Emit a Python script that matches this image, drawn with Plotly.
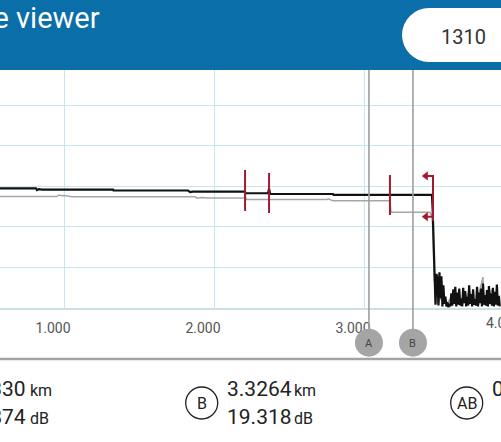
import plotly.graph_objects as go

W, H = 501, 442

# ---------------- data ----------------
title_text = "Trace viewer"
wavelength = "1310"

black_km = [0.573, 0.813, 0.820, 0.833, 0.853, 1.327, 1.330, 1.827, 1.840, 1.860, 2.207, 2.210,
            2.360, 2.367, 2.375, 2.793, 2.797, 3.453, 3.458, 3.462, 3.467]
black_db = [14.74, 14.74, 14.52, 14.64, 14.59, 14.59, 14.47, 14.47, 14.28, 14.32, 14.32, 14.13,
            14.13, 14.70, 14.04, 14.04, 13.92, 13.92, 12.00, 8.74, 4.68]

noise_start_km = 3.470
noise_step_km = 0.0066
black_noise_db = [4.6, 0.4, 4.2, 3.6, 0.3, 4.4, 1.2, 3.9, 0.2, 2.8, 0.5, 1.4, 0.2, 0.7, 0.1, 0.5,
                  0.2, 1.8, 0.3, 2.3, 0.5, 2.6, 0.2, 1.9, 0.4, 2.4, 0.3, 1.2, 0.2, 2.5, 0.6, 2.1,
                  0.2, 1.4, 0.3, 2.8, 0.5, 1.7, 0.2, 2.3, 0.4, 1.1, 0.3, 2.6, 0.2, 1.9, 0.6, 2.4,
                  0.2, 3.0, 0.4, 1.6, 0.3, 2.2, 0.2, 2.7, 0.5, 1.8, 0.3, 2.5, 0.2, 2.0, 0.4, 2.9,
                  0.3, 1.5, 0.2]

grey_km = [0.573, 0.953, 0.965, 0.985, 1.000, 1.053, 1.873, 1.890, 1.920, 1.960, 2.212, 2.217,
           2.753, 2.763, 2.780, 2.797, 3.173, 3.180, 3.440, 3.455, 3.462, 3.468]
grey_db = [13.73, 13.73, 13.92, 13.82, 13.86, 13.70, 13.70, 13.52, 13.60, 13.56, 13.56, 13.36,
           13.36, 13.45, 13.30, 13.21, 13.21, 11.79, 11.79, 11.20, 7.50, 3.50]
grey_noise_km = [3.478, 3.490, 3.520, 3.550, 3.600, 3.650, 3.700, 3.750, 3.793, 3.800, 3.850, 3.900]
grey_noise_db = [2.5, 0.5, 1.5, 0.4, 1.9, 0.3, 2.0, 0.5, 3.8, 0.4, 2.2, 0.5]

event_km = [2.207, 2.367, 3.173]
event_top_db = [17.00, 16.63, 16.38]
event_bot_db = [11.95, 11.70, 11.45]
end_km = 3.460
end_arrow_km = 3.412
end_top_db = 16.26
end_bot_db = 10.71
end_arrow_db = [16.26, 11.24]

cursor_labels = ["A", "B"]
cursor_km = [3.0330, 3.3264]
cursor_db = [19.874, 19.318]

x_tick_vals = [1, 2, 3, 4]
x_tick_text = ["1.000", "2.000", "3.000", "4.000"]

x_range = [0.57333, 3.91333]
y_range = [0.0, 29.31]

# ---------------- helpers ----------------
def px(xp):
    return xp / W

def py(yp):
    return 1 - yp / H

FONT = "Roboto"
RED = "#a3192f"
GRID = "#c6e6f0"

noise_km = [noise_start_km + i * noise_step_km for i in range(len(black_noise_db))]

fig = go.Figure()

fig.add_trace(go.Scatter(x=grey_km + grey_noise_km, y=grey_db + grey_noise_db, mode="lines",
                         line=dict(color="#a6a6a6", width=1.5), hoverinfo="skip", showlegend=False))
fig.add_trace(go.Scatter(x=black_km + noise_km, y=black_db + black_noise_db, mode="lines",
                         line=dict(color="#111111", width=2.2), hoverinfo="skip", showlegend=False))

ev_x, ev_y = [], []
for k, t, b in zip(event_km, event_top_db, event_bot_db):
    ev_x += [k, k, None]
    ev_y += [t, b, None]
ev_x += [end_arrow_km, end_km, end_km, None, end_km, end_arrow_km]
ev_y += [end_arrow_db[0], end_top_db, end_bot_db, None, end_arrow_db[1], end_arrow_db[1]]
fig.add_trace(go.Scatter(x=ev_x, y=ev_y, mode="lines", line=dict(color=RED, width=2),
                         hoverinfo="skip", showlegend=False))
fig.add_trace(go.Scatter(x=[end_arrow_km] * 2, y=end_arrow_db, mode="markers",
                         marker=dict(symbol="triangle-left", size=8, color=RED),
                         hoverinfo="skip", showlegend=False))

shapes = []
annotations = []

# cursor lines
for lab, k in zip(cursor_labels, cursor_km):
    shapes.append(dict(type="line", xref="x", yref="paper", x0=k, x1=k, y0=py(330), y1=1,
                       line=dict(color="#9e9e9e", width=1.6), layer="above"))
    shapes.append(dict(type="circle", xref="x", yref="paper", xsizemode="pixel", xanchor=k,
                       x0=-14, x1=14, y0=py(356.7), y1=py(328.7),
                       fillcolor="#a5a5a5", line=dict(width=0), layer="above"))
    annotations.append(dict(x=k, y=py(343), xref="x", yref="paper", text=lab, showarrow=False,
                            font=dict(family=FONT, size=11, color="#444444"),
                            xanchor="center", yanchor="middle"))

# header
shapes.append(dict(type="rect", xref="paper", yref="paper", x0=0, x1=1, y0=py(70), y1=1,
                   fillcolor="#0a6ea8", line=dict(width=0), layer="above"))
shapes.append(dict(type="circle", xref="paper", yref="paper", x0=px(402), x1=px(456),
                   y0=py(62), y1=py(8), fillcolor="white", line=dict(width=0), layer="above"))
shapes.append(dict(type="rect", xref="paper", yref="paper", x0=px(429), x1=1, y0=py(62),
                   y1=py(8), fillcolor="white", line=dict(width=0), layer="above"))
annotations.append(dict(x=px(102), y=py(18), xref="paper", yref="paper", text=title_text,
                        showarrow=False, xanchor="right", yanchor="middle",
                        font=dict(family=FONT, size=29, color="white")))
annotations.append(dict(x=px(463), y=py(37), xref="paper", yref="paper", text=wavelength,
                        showarrow=False, xanchor="center", yanchor="middle",
                        font=dict(family=FONT, size=20, color="#333333")))

# partial tick label at 4.000 (outside the visible range)
annotations.append(dict(x=(x_tick_vals[3] - x_range[0]) / (x_range[1] - x_range[0]), y=py(323),
                        xref="paper", yref="paper", xshift=-11, text=x_tick_text[3],
                        showarrow=False, xanchor="center", yanchor="middle",
                        font=dict(family=FONT, size=14, color="#555555")))

# separator
shapes.append(dict(type="line", xref="paper", yref="paper", x0=0, x1=1, y0=py(359), y1=py(359),
                   line=dict(color="#a3a3a3", width=2.5), layer="above"))

# readouts
VAL = dict(family=FONT, size=21, color="#222222")
UNIT = dict(family=FONT, size=16, color="#222222")
delta_km = cursor_km[1] - cursor_km[0]


def readout(x_val, x_unit, y_center, val_text, unit_text, anchor):
    annotations.append(dict(x=px(x_val), y=py(y_center), xref="paper", yref="paper",
                            text=val_text, showarrow=False, xanchor=anchor, yanchor="middle",
                            font=VAL))
    annotations.append(dict(x=px(x_unit), y=py(y_center + 1), xref="paper", yref="paper",
                            text=unit_text, showarrow=False, xanchor="left", yanchor="middle",
                            font=UNIT))


readout(28, 28, 389, f"{cursor_km[0]:.4f}", "km", "right")
readout(28, 28, 417, f"{cursor_db[0]:.3f}", "dB", "right")
readout(225, 292, 389, f"{cursor_km[1]:.4f}", "km", "left")
readout(225, 292, 417, f"{cursor_db[1]:.3f}", "dB", "left")
annotations.append(dict(x=px(490), y=py(389), xref="paper", yref="paper",
                        text=f"{delta_km:.4f}", showarrow=False, xanchor="left",
                        yanchor="middle", font=VAL))

for lab, cx in [("B", 201.7), ("AB", 466.7)]:
    shapes.append(dict(type="circle", xref="paper", yref="paper", x0=px(cx - 16), x1=px(cx + 16),
                       y0=py(403 + 16), y1=py(403 - 16), line=dict(color="#222222", width=1.3),
                       fillcolor="rgba(0,0,0,0)", layer="above"))
    annotations.append(dict(x=px(cx), y=py(403), xref="paper", yref="paper", text=lab,
                            showarrow=False, xanchor="center", yanchor="middle",
                            font=dict(family=FONT, size=16, color="#222222")))

fig.update_layout(
    width=W, height=H, autosize=False,
    margin=dict(l=0, r=0, t=0, b=0, pad=0),
    paper_bgcolor="white", plot_bgcolor="white",
    showlegend=False,
    shapes=shapes, annotations=annotations,
    xaxis=dict(range=x_range, domain=[0, 1], tickvals=x_tick_vals[:3], ticktext=x_tick_text[:3],
               showgrid=True, gridcolor=GRID, gridwidth=1.2, zeroline=False,
               showline=True, linecolor="#cddfe4", linewidth=2, ticks="",
               tickfont=dict(family=FONT, size=14, color="#555555"),
               ticklabelshift=-11, ticklabelstandoff=6, fixedrange=True),
    yaxis=dict(range=y_range, domain=[py(308), py(70)], dtick=5, tick0=0,
               showgrid=True, gridcolor=GRID, gridwidth=1.2, zeroline=False,
               showticklabels=False, ticks="", showline=False, fixedrange=True),
)

fig.write_html("out.html", config={"displayModeBar": False},
               post_script="document.body.style.margin='0';document.body.style.overflow='hidden';")
